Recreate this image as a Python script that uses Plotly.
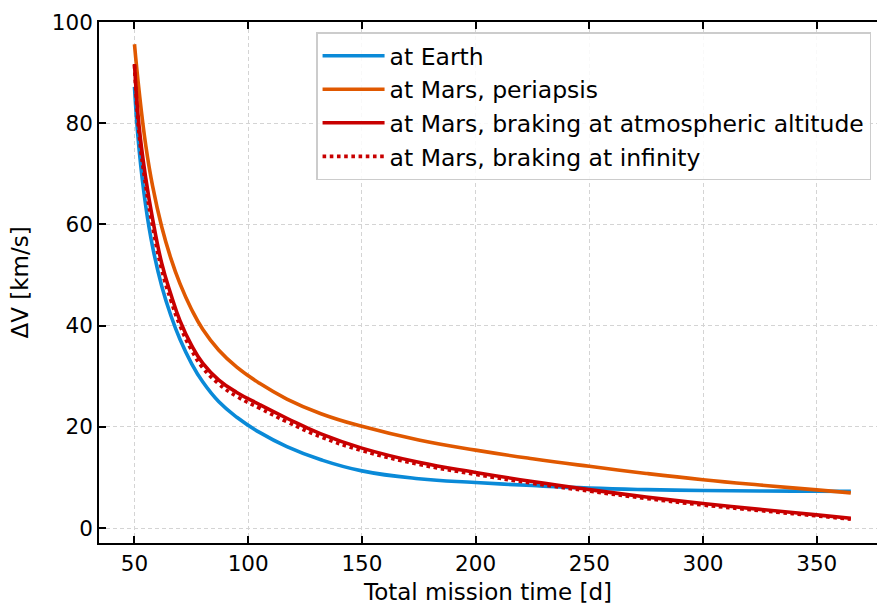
import plotly.graph_objects as go

# Total mission time [d] at which each curve is sampled
mission_days = [50, 52, 55, 58, 62, 66, 70, 75, 80, 87, 95, 105, 117, 132, 150,
                175, 200, 225, 250, 275, 300, 325, 350, 365]

# Delta-V [km/s] for each manoeuvre
dv_earth = [87.2, 75.0, 63.5, 55.5, 47.8, 42.0, 37.3, 32.6, 28.9, 25.0, 21.9,
            18.9, 16.1, 13.5, 11.3, 9.75, 9.0, 8.4, 7.9, 7.6, 7.42, 7.33, 7.28,
            7.25]
dv_mars_periapsis = [95.6, 86.5, 75.5, 67.5, 59.5, 53.3, 48.3, 43.3, 39.3, 35.2,
                     31.8, 28.6, 25.5, 22.6, 20.1, 17.4, 15.4, 13.7, 12.2, 10.8,
                     9.55, 8.5, 7.55, 6.95]
dv_mars_atmo = [91.7, 79.5, 69.0, 61.0, 52.3, 46.2, 41.0, 36.2, 32.6, 29.3,
                26.8, 24.4, 21.7, 18.6, 15.8, 13.0, 11.0, 9.2, 7.6, 6.15, 4.85,
                3.7, 2.6, 1.95]
dv_mars_inf = [91.5, 78.0, 67.5, 59.5, 51.0, 45.0, 40.0, 35.2, 31.7, 28.5,
               26.0, 23.7, 21.0, 18.0, 15.3, 12.6, 10.6, 8.85, 7.3, 5.85, 4.55,
               3.45, 2.4, 1.75]

series = [
    ("at Earth", dv_earth, "#0a8ad8", "solid"),
    ("at Mars, periapsis", dv_mars_periapsis, "#e05800", "solid"),
    ("at Mars, braking at atmospheric altitude", dv_mars_atmo, "#c80000", "solid"),
    ("at Mars, braking at infinity", dv_mars_inf, "#c80000", "dot"),
]

FONT = "DejaVu Sans"

fig = go.Figure()
# dotted curve is drawn first so the solid red one sits on top of it
order = [0, 1, 3, 2]
for i in order:
    name, vals, color, dash = series[i]
    fig.add_trace(go.Scatter(
        x=mission_days, y=vals, mode="lines", name=name,
        line=dict(color=color, width=3.6, dash=dash, shape="spline", smoothing=1.3),
        legendrank=i,
    ))

axis_common = dict(
    showline=True, linecolor="black", linewidth=1.7,
    ticks="inside", ticklen=7, tickwidth=1.5, tickcolor="black",
    showgrid=True, gridcolor="#d4d4d4", griddash="4px,3px", gridwidth=1,
    zeroline=False,
    tickfont=dict(family=FONT, size=21.5, color="black"),
)

fig.update_xaxes(
    range=[34.4, 376.5], tickvals=[50, 100, 150, 200, 250, 300, 350],
    mirror="ticks",
    title=dict(text="Total mission time [d]", font=dict(family=FONT, size=23, color="black"),
               standoff=12),
    **axis_common,
)
fig.update_yaxes(
    range=[-2.95, 100.0], tickvals=[0, 20, 40, 60, 80, 100],
    title=dict(text="ΔV [km/s]", font=dict(family=FONT, size=23, color="black"),
               standoff=17),
    **axis_common,
)

fig.update_layout(
    width=877, height=605,
    margin=dict(l=99, r=0, t=22, b=62),
    plot_bgcolor="white", paper_bgcolor="white",
    showlegend=True,
    legend=dict(
        x=0.279, xanchor="left", y=0.98, yanchor="top",
        bgcolor="rgba(255,255,255,0.85)", bordercolor="#cccccc", borderwidth=1.5,
        font=dict(family=FONT, size=23.5, color="black"),
        traceorder="normal", itemwidth=62,
    ),
)

fig.write_html("out.html")
